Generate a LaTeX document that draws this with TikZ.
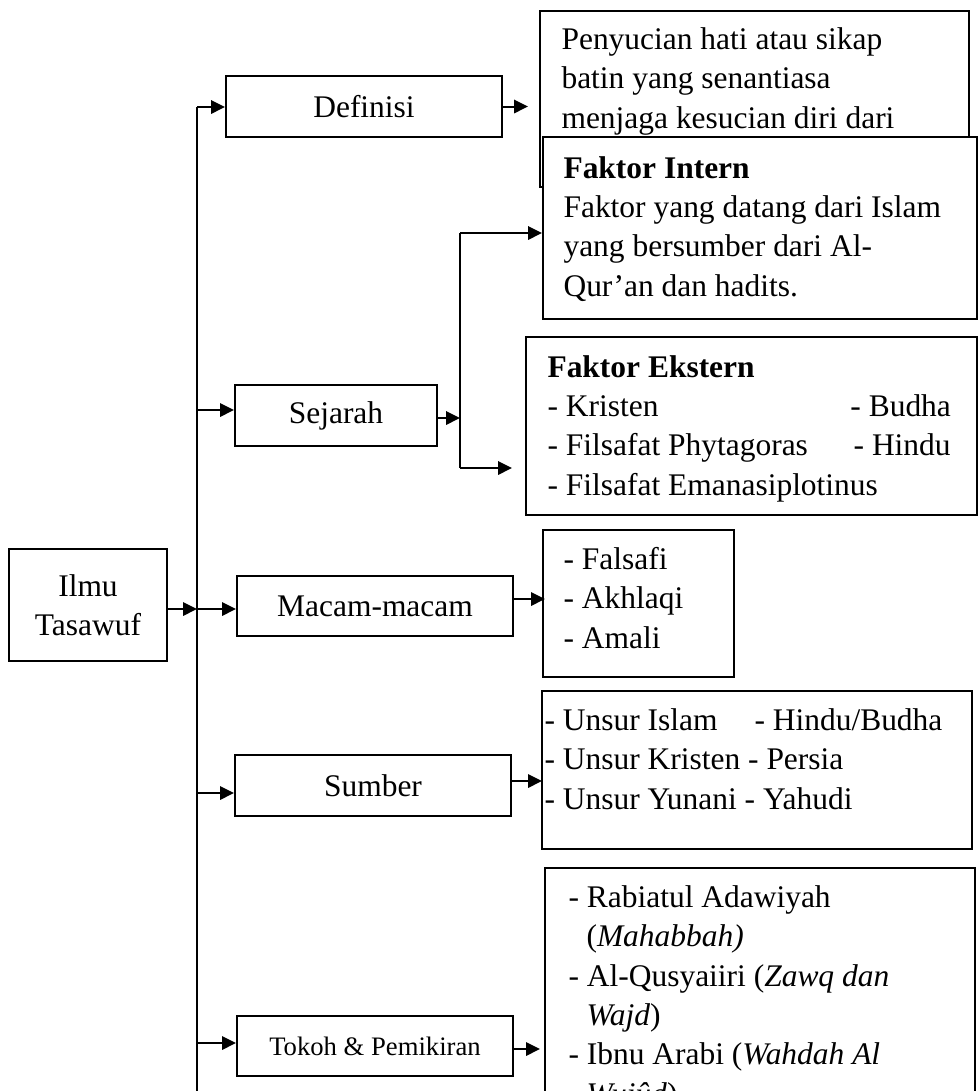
\documentclass[tikz,border=0pt]{standalone}
\usepackage{fontspec}
\setmainfont{Liberation Serif}
\usetikzlibrary{arrows.meta}
\newcommand\fz{\fontsize{11.8pt}{14.74pt}\selectfont}
\newcommand\fs{\fontsize{10pt}{12pt}\selectfont}
\tikzset{
  bx/.style n args={2}{draw, line width=0.75pt, minimum width=#1*0.375pt, minimum height=#2*0.375pt, inner sep=0pt, align=center, font=\fz},
  arr/.style={-{Triangle[length=5.2pt,width=5pt]}, line width=0.75pt},
  ln/.style={line width=0.75pt},
  txt/.style={inner sep=0pt, anchor=base west, align=left, font=\fz}
}
\begin{document}
\begin{tikzpicture}[x=0.375pt,y=-0.375pt]
\useasboundingbox (0,0) rectangle (978,1091);
\clip (0,0) rectangle (978,1091);
% main boxes
\node[bx={158}{112}] (ilmu) at (88,605) {Ilmu\\Tasawuf};
\node[bx={276}{61}] (def) at (364,106.5) {Definisi};
\node[bx={202}{61}] (sej) at (336,415.5) {Sejarah};
\node[bx={276}{60}] (mac) at (375,606) {Macam-macam};
\node[bx={276}{61}] (sum) at (373,785.5) {Sumber};
\node[bx={276}{60}, font=\fs] (tok) at (375,1046) {Tokoh \& Pemikiran};
% right boxes (text nodes anchored at the baseline of their last line)
\node[bx={429}{176}] (defbox) at (754.5,99) {};
\node[txt] (deftxt) at (561,128) {Penyucian hati atau sikap\\batin yang senantiasa\\menjaga kesucian diri dari};
\node[bx={434}{182}, fill=white] (intern) at (760,228) {};
\node[txt] (inttxt) at (563,296) {\textbf{Faktor Intern}\\Faktor yang datang dari Islam\\yang bersumber dari Al-\\Qur’an dan hadits.};
\node[bx={451}{178}] (ekstern) at (751.5,426) {};
\node[txt] (ekstxt) at (547,495) {\textbf{Faktor Ekstern}\\\makebox[113.6pt][l]{- Kristen}- Budha\\\makebox[114.8pt][l]{- Filsafat Phytagoras}- Hindu\\- Filsafat Emanasiplotinus};
\node[bx={191}{147}] (maclist) at (638.5,603.5) {};
\node[txt] (mactxt) at (563,648) {- Falsafi\\- Akhlaqi\\- Amali};
\node[bx={430}{158}] (sumlist) at (757,770) {};
\node[txt] (sumtxt) at (544,809) {\makebox[78.75pt][l]{- Unsur Islam}- Hindu/Budha\\- Unsur Kristen - Persia\\- Unsur Yunani - Yahudi};
\node[bx={430}{272}] (toklist) at (760,1004) {};
\node[txt] (toktxt) at (568,1104) {- Rabiatul Adawiyah\\\hspace*{6.75pt}(\textit{Mahabbah)}\\- Al-Qusyaiiri (\textit{Zawq dan}\\\hspace*{6.75pt}\textit{Wajd})\\- Ibnu Arabi (\textit{Wahdah Al}\\\hspace*{6.75pt}\textit{Wujûd})};
% trunk
\coordinate (ttop) at (197,107);
\coordinate (tbot) at (197,1100);
\coordinate (j2) at (197,410);
\coordinate (j3) at (197,609);
\coordinate (j4) at (197,793);
\coordinate (j5) at (197,1043);
\draw[ln] (ttop) -- (tbot);
\draw[arr] (ttop) -- (ttop -| def.west);
\draw[arr] (j2) -- (j2 -| sej.west);
\draw[arr] (j3 -| ilmu.east) -- (j3);
\draw[arr] (j3) -- (j3 -| mac.west);
\draw[arr] (j4) -- (j4 -| sum.west);
\draw[arr] (j5) -- (j5 -| tok.west);
% definisi
\coordinate (d1) at (528,106.5);
\draw[arr] (def.east) -- (d1);
% sejarah
\coordinate (s0) at (460,233);
\coordinate (s1) at (460,418);
\coordinate (s2) at (460,468);
\coordinate (s3) at (512,468);
\draw[arr] (s1 -| sej.east) -- (s1);
\draw[ln] (s0) -- (s2);
\draw[arr] (s0) -- (s0 -| intern.west);
\draw[arr] (s2) -- (s3);
% macam
\coordinate (m1) at (545,599);
\draw[arr] (m1 -| mac.east) -- (m1);
% sumber
\coordinate (u1) at (542,781);
\draw[arr] (u1 -| sum.east) -- (u1);
% tokoh
\coordinate (k1) at (540,1049);
\draw[arr] (k1 -| tok.east) -- (k1);
\end{tikzpicture}
\end{document}
